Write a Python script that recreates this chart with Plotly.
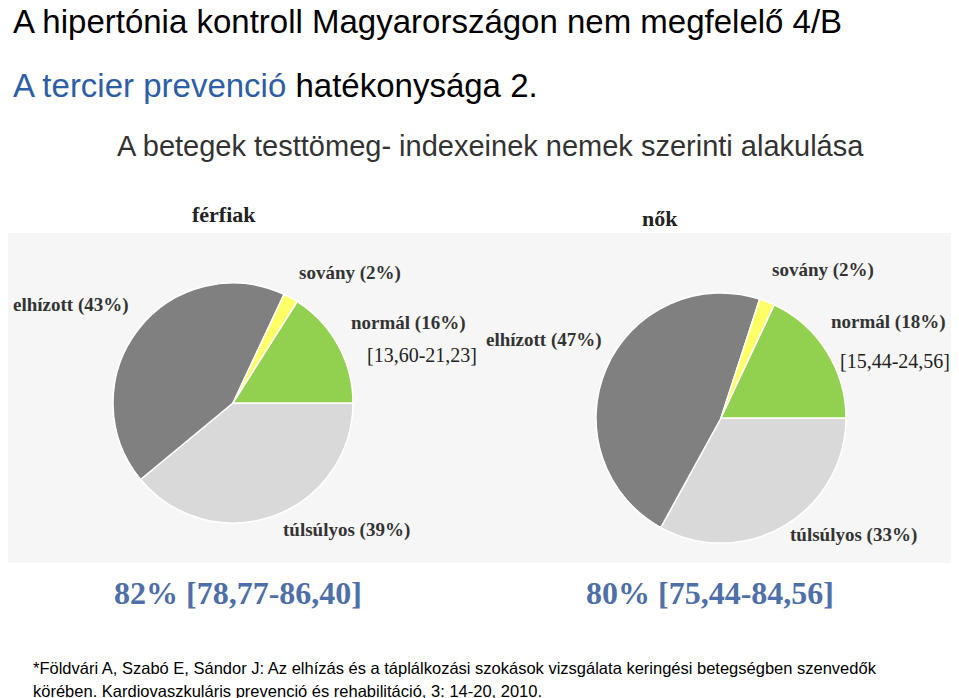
import plotly.graph_objects as go

W, H = 959, 698
labels = ["túlsúlyos", "elhízott", "sovány", "normál"]
ferfi = [39, 43, 2, 16]
no = [33, 47, 2, 18]
colors = ["#d9d9d9", "#808080", "#ffff66", "#92d050"]

def px(x): return x / W
def py(y): return 1 - y / H

fig = go.Figure()
for vals, (x0, x1, y0, y1) in [(ferfi, (105, 345, 275, 515)), (no, (588, 838, 285, 535))]:
    fig.add_trace(go.Pie(labels=labels, values=vals, sort=False, rotation=90, direction="clockwise",
                         marker=dict(colors=colors, line=dict(color="white", width=1.5)),
                         textinfo="none", hoverinfo="label+percent", showlegend=False,
                         domain=dict(x=[px(x0), px(x1)], y=[py(y1), py(y0)])))

ann = []
def t(x, y, s, size, color="#000", family="Liberation Sans", xa="left", bold=False):
    if bold: s = "<b>" + s + "</b>"
    ann.append(dict(x=px(x), y=py(y), xref="paper", yref="paper", text=s, showarrow=False,
                    xanchor=xa, yanchor="middle", borderpad=0,
                    font=dict(size=size, color=color, family=family)))

t(4, 14, "A hipertónia kontroll Magyarországon nem megfelelő 4/B", 33)
t(4, 77, "<span style='color:#2d5ea6'>A tercier prevenció</span> hatékonysága 2.", 33)
t(482, 138, "A betegek testtömeg- indexeinek nemek szerinti alakulása", 29, "#333", xa="center")
ser = "Liberation Serif"
t(216, 207, "férfiak", 22, "#222", ser, "center", True)
t(652, 210, "nők", 22, "#222", ser, "center", True)
lc = "#333"
s = 19
t(342, 265, "sovány (2%)", s, lc, ser, "center", True)
t(63, 297, "elhízott (43%)", s, lc, ser, "center", True)
t(400, 315, "normál (16%)", s, lc, ser, "center", True)
t(414, 347, "[13,60-21,23]", 20, "#222", ser, "center")
t(536, 332, "elhízott (47%)", s, lc, ser, "center", True)
t(815, 262, "sovány (2%)", s, lc, ser, "center", True)
t(880, 314, "normál (18%)", s, lc, ser, "center", True)
t(887, 353, "[15,44-24,56]", 20, "#222", ser, "center")
t(338, 522, "túlsúlyos (39%)", s, lc, ser, "center", True)
t(845, 527, "túlsúlyos (33%)", s, lc, ser, "center", True)
t(230, 585, "82% [78,77-86,40]", 32, "#4f6fa8", ser, "center", True)
t(702, 585, "80% [75,44-84,56]", 32, "#4f6fa8", ser, "center", True)
t(24, 660, "*Földvári A, Szabó E, Sándor J: Az elhízás és a táplálkozási szokások vizsgálata keringési betegségben szenvedők", 16.5)
t(24, 683, "körében. Kardiovaszkuláris prevenció és rehabilitáció, 3: 14-20, 2010.", 16.5)

fig.update_layout(width=W, height=H, margin=dict(l=0, r=0, t=0, b=0),
                  paper_bgcolor="white", plot_bgcolor="white", annotations=ann,
                  shapes=[dict(type="rect", xref="paper", yref="paper", x0=0, x1=1,
                               y0=py(555), y1=py(225), fillcolor="#f6f6f6", line_width=0, layer="below")])
fig.write_html("out.html")
